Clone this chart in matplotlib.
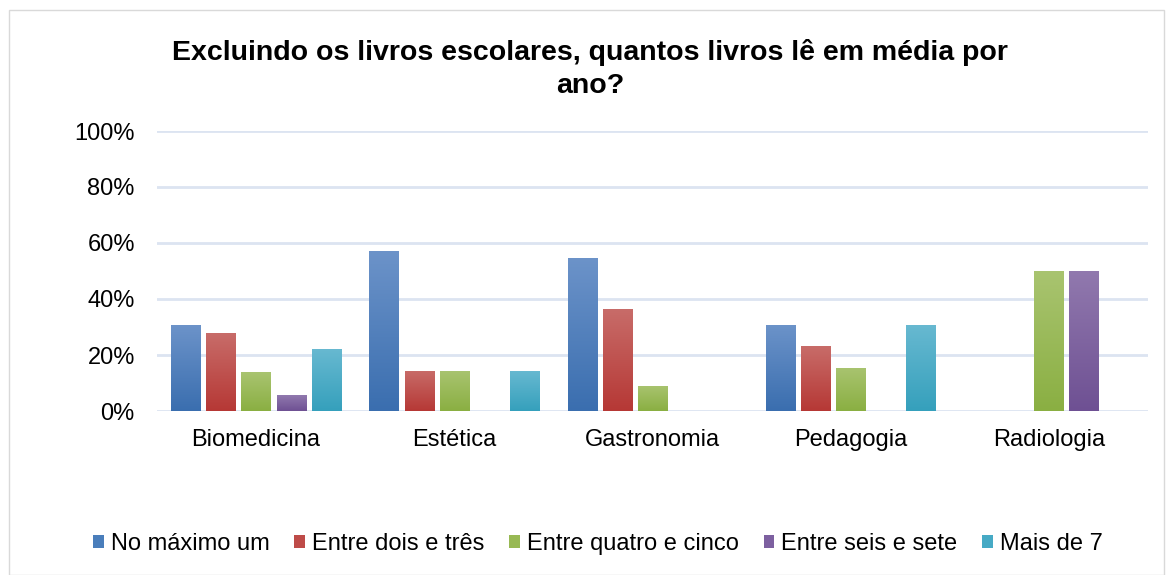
import numpy as np
import matplotlib
matplotlib.use("Agg")
import matplotlib.pyplot as plt
from matplotlib.colors import LinearSegmentedColormap
from matplotlib.patches import Rectangle

plt.rcParams['font.family'] = ['Liberation Sans', 'DejaVu Sans']

categories = ["Biomedicina", "Estética", "Gastronomia", "Pedagogia", "Radiologia"]
series_names = ["No máximo um", "Entre dois e três", "Entre quatro e cinco",
                "Entre seis e sete", "Mais de 7"]
no_maximo_um = [30.6, 57.1, 54.5, 30.8, 0]
entre_dois_tres = [27.8, 14.3, 36.4, 23.1, 0]
entre_quatro_cinco = [13.9, 14.3, 9.1, 15.4, 50]
entre_seis_sete = [5.6, 0, 0, 0, 50]
mais_de_7 = [22.2, 14.3, 0, 30.8, 0]
series = [no_maximo_um, entre_dois_tres, entre_quatro_cinco, entre_seis_sete, mais_de_7]
y_ticks = [0, 20, 40, 60, 80, 100]
y_labels = ["0%", "20%", "40%", "60%", "80%", "100%"]

tops = ["#6C93C9", "#C86C69", "#A9C470", "#9179AE", "#68B9D1"]
bottoms = ["#3A6EAF", "#B63835", "#8AAF42", "#6E5093", "#35A0BC"]
solid = ["#4A7EBB", "#BE4B48", "#98B954", "#7D60A0", "#46AAC5"]

W, H = 1169, 575
fig = plt.figure(figsize=(W / 100, H / 100), dpi=100)
ax = fig.add_axes([157 / W, 1 - 411 / H, (1148 - 157) / W, (411 - 131) / H])

x = np.arange(len(categories))
step = 0.177
width = 0.148
grad = np.linspace(1, 0, 256).reshape(-1, 1)
for i, vals in enumerate(series):
    offs = (i - 2) * step
    bars = ax.bar(x + offs, vals, width, color=solid[i], label=series_names[i], zorder=2)
    cmap = LinearSegmentedColormap.from_list("g%d" % i, [bottoms[i], tops[i]])
    for b in bars:
        h = b.get_height()
        if h <= 0:
            continue
        x0 = b.get_x()
        im = ax.imshow(grad, extent=[x0, x0 + b.get_width(), 0, h], aspect='auto',
                       cmap=cmap, vmin=0, vmax=1, zorder=3, origin='upper')
        im.set_clip_path(b)

ax.set_xlim(-0.5, len(categories) - 0.5)
ax.set_ylim(0, 100)
ax.set_yticks(y_ticks)
ax.set_yticklabels(y_labels)
ax.set_xticks(x)
ax.set_xticklabels(categories)
ax.tick_params(axis='both', length=0, labelsize=17, colors='black')
ax.tick_params(axis='y', pad=16)
ax.tick_params(axis='x', pad=13)
for s in ax.spines.values():
    s.set_visible(False)
ax.grid(axis='y', color='#DCE4F1', linewidth=2, zorder=0)
ax.set_axisbelow(True)

fig.text(590 / W, 1 - 52 / H, "Excluindo os livros escolares, quantos livros lê em média por",
         ha='center', va='center', fontsize=20.5, fontweight='bold')
fig.text(590 / W, 1 - 86 / H, "ano?", ha='center', va='center', fontsize=20.5, fontweight='bold')

leg = fig.legend(loc='center', bbox_to_anchor=(598 / W, 1 - 544 / H), ncol=5, frameon=False,
                 fontsize=17, handlelength=0.45, handleheight=0.45, handletextpad=0.3,
                 columnspacing=1.05)

fig.patches.append(Rectangle((9 / W, 0), (1164 - 9) / W, 1 - 10 / H, transform=fig.transFigure,
                             fill=False, edgecolor='#D9D9D9', linewidth=1))

fig.savefig("out.png", dpi=100)
